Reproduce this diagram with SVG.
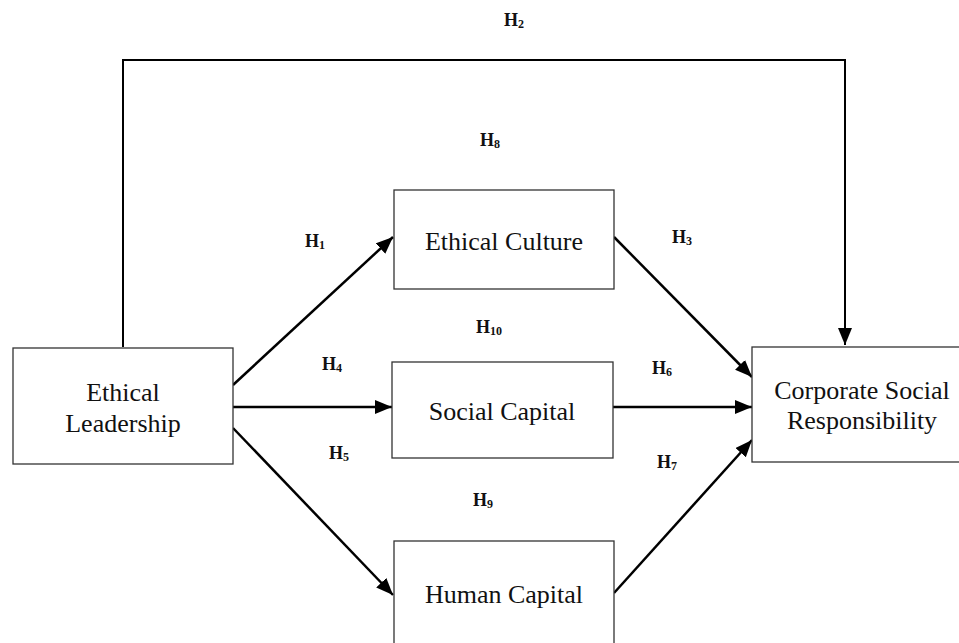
<svg xmlns="http://www.w3.org/2000/svg" width="959" height="643" viewBox="0 0 959 643">
<style>
.box{fill:#fff;stroke:#333;stroke-width:1.3}
.t{font-family:"Liberation Serif","Times New Roman",Times,serif;font-size:26px;fill:#111;text-anchor:middle}
.h{font-family:"Liberation Serif","Times New Roman",Times,serif;font-size:18px;font-weight:bold;fill:#111}
.s{font-size:12px}
.c{stroke:#000;stroke-width:2.5;fill:none;marker-end:url(#ah)}
</style>
<defs>
<marker id="ah" markerUnits="userSpaceOnUse" markerWidth="20" markerHeight="16" refX="17" refY="7" orient="auto">
<path d="M0,0 L17,7 L0,14 Z" fill="#000"/>
</marker>
</defs>
<rect width="959" height="643" fill="#fff"/>
<g id="connectors">
<path d="M123,347 V60 H845 V345" stroke="#000" stroke-width="2" fill="none" marker-end="url(#ah)"/>
<line class="c" x1="233" y1="385" x2="393" y2="237"/>
<line class="c" x1="233" y1="407" x2="392" y2="407"/>
<line class="c" x1="233" y1="428" x2="393" y2="595"/>
<line class="c" x1="614" y1="237" x2="752" y2="377"/>
<line class="c" x1="613" y1="407" x2="752" y2="407"/>
<line class="c" x1="614" y1="593" x2="752" y2="440"/>
</g>
<g id="ethical-leadership">
<rect class="box" x="13" y="348" width="220" height="116"/>
<text class="t" x="123" y="401">Ethical</text>
<text class="t" x="123" y="432">Leadership</text>
</g>
<g id="ethical-culture">
<rect class="box" x="394" y="190" width="220" height="99"/>
<text class="t" x="504" y="250">Ethical Culture</text>
</g>
<g id="social-capital">
<rect class="box" x="392" y="362" width="221" height="96"/>
<text class="t" x="502" y="420">Social Capital</text>
</g>
<g id="human-capital">
<rect class="box" x="394" y="541" width="220" height="110"/>
<text class="t" x="504" y="603">Human Capital</text>
</g>
<g id="csr">
<rect class="box" x="752" y="347" width="222" height="115"/>
<text class="t" x="862" y="399">Corporate Social</text>
<text class="t" x="862" y="429">Responsibility</text>
</g>
<g id="labels">
<text class="h" x="504" y="26">H<tspan class="s" dy="2">2</tspan></text>
<text class="h" x="480" y="146">H<tspan class="s" dy="2">8</tspan></text>
<text class="h" x="305" y="247">H<tspan class="s" dy="2">1</tspan></text>
<text class="h" x="672" y="243">H<tspan class="s" dy="2">3</tspan></text>
<text class="h" x="476" y="333">H<tspan class="s" dy="2">10</tspan></text>
<text class="h" x="322" y="370">H<tspan class="s" dy="2">4</tspan></text>
<text class="h" x="652" y="374">H<tspan class="s" dy="2">6</tspan></text>
<text class="h" x="329" y="459">H<tspan class="s" dy="2">5</tspan></text>
<text class="h" x="657" y="468">H<tspan class="s" dy="2">7</tspan></text>
<text class="h" x="473" y="506">H<tspan class="s" dy="2">9</tspan></text>
</g>
</svg>
